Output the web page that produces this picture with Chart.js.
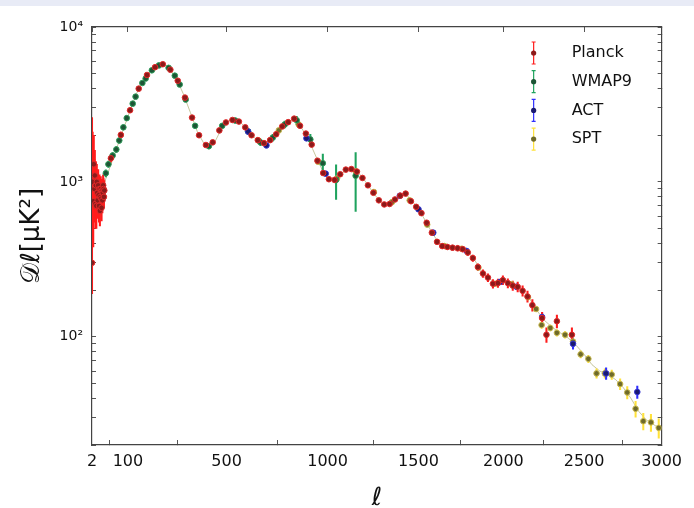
<!DOCTYPE html>
<html>
<head>
<meta charset="utf-8">
<script src="https://cdn.jsdelivr.net/npm/chart.js@4.4.1/dist/chart.umd.min.js"></script>
<style>
  html, body { margin: 0; padding: 0; }
  body { width: 694px; height: 508px; overflow: hidden;
         background: linear-gradient(#e8ebf6 0, #e8ebf6 6px, #fff 6px); }
  canvas { display: block; }
</style>
</head>
<body>
<canvas id="chart" width="694" height="508"></canvas>
<script>
// band powers D_l [uK^2]

// Planck, unbinned low multipoles (asymmetric errors)
const lowL  = [2, 3, 4, 5, 6, 7, 8, 9, 10, 11, 12, 13, 14, 15, 16, 17, 18, 19, 20, 21, 22, 23, 24, 25, 26, 27, 28, 29];
const lowD  = [300, 1000, 750, 1300, 900, 1100, 720, 950, 700, 1000, 850, 760, 950, 820, 700, 900, 650, 800, 900, 780, 680, 880, 760, 850, 950, 900, 800, 880];
const lowLo = [190, 450, 380, 700, 550, 700, 500, 650, 500, 750, 650, 580, 740, 640, 550, 720, 520, 650, 740, 640, 560, 730, 630, 710, 800, 760, 680, 750];
const lowHi = [2600, 2100, 1500, 2000, 1400, 1600, 1050, 1350, 950, 1300, 1100, 980, 1200, 1030, 880, 1110, 800, 970, 1080, 940, 820, 1040, 900, 1000, 1110, 1050, 930, 1020];

// Planck, binned
const planckL = [47, 77, 107, 137, 167, 197, 227, 257, 287, 317, 347, 377, 407, 437, 467, 497, 527, 557, 587, 617,
  647, 677, 707, 737, 767, 797, 827, 857, 887, 917, 947, 977, 1007, 1037, 1067, 1097, 1127, 1157, 1187, 1217,
  1247, 1277, 1307, 1337, 1367, 1397, 1427, 1457, 1487, 1517, 1547, 1577, 1607, 1637, 1667, 1697, 1727, 1757, 1787, 1817,
  1847, 1877, 1907, 1937, 1967, 1997, 2027, 2057, 2087, 2117, 2147, 2177, 2237, 2264, 2329, 2423];
const planckD = [1420, 2010, 2900, 4000, 4900, 5500, 5750, 5300, 4500, 3500, 2600, 2000, 1730, 1800, 2150, 2420, 2510, 2450, 2250, 2000,
  1860, 1780, 1860, 2030, 2280, 2430, 2560, 2300, 2050, 1740, 1370, 1140, 1040, 1030, 1120, 1200, 1210, 1165, 1060, 950,
  850, 760, 715, 720, 770, 815, 840, 750, 690, 628, 545, 470, 410, 385, 380, 376, 373, 368, 350, 322,
  282, 256, 241, 220, 222, 232, 222, 214, 210, 198, 182, 160, 132, 103, 126, 103];
const planckErr = [80, 90, 100, 110, 120, 130, 130, 120, 100, 80, 60, 45, 40, 40, 45, 50, 50, 50, 45, 40,
  38, 36, 38, 40, 45, 50, 52, 48, 44, 38, 32, 28, 26, 26, 28, 30, 30, 30, 28, 26,
  24, 22, 21, 21, 22, 24, 25, 23, 22, 20, 18, 16, 15, 14, 14, 14, 15, 15, 15, 15,
  14, 14, 14, 14, 14, 15, 15, 15, 15, 15, 15, 14, 12, 11, 12, 11];

// WMAP9
const wmapL   = [33, 40, 52, 63, 72, 85, 96, 116, 126, 150, 162, 185, 212, 250, 275, 295, 320, 360, 420, 480, 540, 600, 660, 720, 780, 840, 910, 975, 1045, 1150];
const wmapD   = [1138, 1300, 1480, 1620, 1850, 2250, 2580, 3200, 3550, 4350, 4650, 5250, 5650, 5450, 4850, 4250, 3400, 2300, 1700, 2300, 2490, 2120, 1800, 1930, 2350, 2500, 1880, 1320, 1030, 1095];
const wmapErr = [60, 60, 65, 70, 75, 80, 85, 95, 100, 110, 115, 125, 130, 130, 120, 110, 95, 80, 70, 80, 90, 90, 90, 100, 120, 150, 150, 190, 260, 450];

// ACT
const actL   = [601, 689, 890, 990, 1394, 1500, 1585, 1780, 1980, 2080, 2237, 2430, 2640, 2841];
const actD   = [2110, 1720, 1910, 1130, 813, 665, 470, 358, 226, 210, 134, 90, 58, 44];
const actErr = [55, 45, 50, 35, 24, 20, 15, 12, 9, 9, 8, 7, 5, 4];

// SPT
const sptL   = [650, 750, 850, 950, 1050, 1150, 1250, 1350, 1450, 1550, 1650, 1750, 1850, 1950, 2050, 2150, 2200,
  2234, 2288, 2329, 2380, 2430, 2478, 2527, 2579, 2632, 2676, 2730, 2776, 2830, 2880, 2930, 2981];
const sptD   = [1850, 2150, 2350, 1350, 1050, 1170, 860, 740, 760, 530, 385, 370, 280, 220, 218, 180, 151,
  119, 114, 106, 103, 93, 77, 72, 58, 58, 57, 49.5, 43.7, 34.3, 28.5, 28, 25.8];
const sptErr = [45, 50, 55, 35, 28, 30, 22, 20, 20, 15, 12, 11, 9, 8, 8, 7, 6,
  6, 5, 5, 5, 5, 4, 4, 4, 4, 4, 4, 4, 4, 3.5, 3.5, 3.7];

// best-fit curve behind the points
const modelL = [2, 10, 20, 30, 50, 80, 110, 140, 170, 200, 225, 250, 280, 310, 340, 370, 400, 420, 450, 480, 510, 540, 570, 600,
  630, 660, 690, 720, 750, 780, 810, 830, 860, 890, 920, 950, 980, 1010, 1040, 1070, 1100, 1130, 1160, 1190, 1220, 1260,
  1300, 1330, 1360, 1400, 1430, 1460, 1500, 1540, 1580, 1620, 1660, 1700, 1750, 1790, 1830, 1870, 1910, 1950, 1990, 2030,
  2080, 2120, 2160, 2200, 2250, 2300, 2350, 2400, 2450, 2500, 2550, 2600, 2650, 2700, 2750, 2800, 2850, 2900, 2950, 3000];
const modelD = [1000, 800, 850, 1000, 1350, 2050, 3000, 4150, 5000, 5550, 5760, 5500, 4700, 3700, 2800, 2100, 1750, 1700, 1850, 2250, 2480, 2520, 2380, 2150,
  1930, 1800, 1800, 1930, 2150, 2350, 2470, 2500, 2280, 1980, 1650, 1360, 1140, 1030, 1040, 1120, 1190, 1210, 1160, 1060, 940, 810,
  720, 710, 760, 815, 830, 760, 670, 560, 465, 400, 380, 376, 368, 350, 310, 262, 240, 222, 228, 222,
  210, 197, 176, 150, 128, 115, 106, 98, 88, 77, 66, 60, 57, 53, 47, 40, 33, 29, 27, 25];

const xTicks = [2, 100, 500, 1000, 1500, 2000, 2500, 3000];
const yTicks = [20, 30, 40, 50, 60, 70, 80, 90, 100, 200, 300, 400, 500, 600, 700, 800, 900,
  1000, 2000, 3000, 4000, 5000, 6000, 7000, 8000, 9000, 10000];
const yLabels = {100: '10²', 1000: '10³', 10000: '10⁴'};

const names    = ['Planck', 'WMAP9', 'ACT', 'SPT'];
const barCols  = ['#ff1c1c', '#1fa35e', '#2f2fff', '#ffe23a'];
const dotFill  = ['#8c1a1a', '#1d5535', '#1a1a70', '#6e6a2a'];
const dotEdge  = ['#e02a2a', '#2f9a5a', '#3434d0', '#c8b850'];

// the l axis is stretched like l^0.8
const POW = 0.8;
class PowerScale extends Chart.LinearScale {
  getPixelForValue(value) {
    const a = Math.pow(this.min, POW), b = Math.pow(this.max, POW);
    return this.getPixelForDecimal((Math.pow(value, POW) - a) / (b - a));
  }
  getValueForPixel(pixel) {
    const a = Math.pow(this.min, POW), b = Math.pow(this.max, POW);
    return Math.pow(a + this.getDecimalForPixel(pixel) * (b - a), 1 / POW);
  }
}
PowerScale.id = 'power';
PowerScale.defaults = Chart.LinearScale.defaults;
Chart.register(PowerScale);

const pts = (ls, ds) => ls.map((l, i) => ({x: l, y: ds[i]}));
const bars = (ls, ds, es) => ls.map((l, i) => ({x: l, y: [ds[i] - es[i], ds[i] + es[i]]}));

const planckBars = lowL.map((l, i) => ({x: l, y: [lowLo[i], lowHi[i]]}))
  .concat(bars(planckL, planckD, planckErr));
const planckPts = pts(lowL, lowD).concat(pts(planckL, planckD));

function errSet(data, i) {
  return {type: 'bar', data: data, backgroundColor: barCols[i], barThickness: 1.4,
    stack: 'err', order: 10 + i};
}
function dotSet(data, i, order) {
  return {type: 'scatter', label: names[i], data: data, pointRadius: 2.8, pointBorderWidth: 1,
    backgroundColor: dotFill[i], borderColor: dotEdge[i], order: order};
}

const legendPlugin = {
  id: 'cmbLegend',
  afterDraw(chart) {
    const ctx = chart.ctx;
    const x = chart.chartArea.right - 128;
    ctx.save();
    names.forEach((name, i) => {
      const y = chart.chartArea.top + 26 + i * 28.7;
      ctx.strokeStyle = barCols[i];
      ctx.lineWidth = 1.2;
      ctx.beginPath();
      ctx.moveTo(x, y - 11); ctx.lineTo(x, y + 11);
      ctx.moveTo(x - 2, y - 11); ctx.lineTo(x + 2, y - 11);
      ctx.moveTo(x - 2, y + 11); ctx.lineTo(x + 2, y + 11);
      ctx.stroke();
      ctx.fillStyle = dotFill[i];
      ctx.beginPath(); ctx.arc(x, y, 2.6, 0, 2 * Math.PI); ctx.fill();
      ctx.fillStyle = '#111';
      ctx.font = '16px "DejaVu Sans"';
      ctx.textBaseline = 'middle';
      ctx.fillText(name, x + 38, y);
    });
    ctx.restore();
  }
};

const setXTicks = s => { s.ticks = xTicks.map(v => ({value: v})); };
const setYTicks = s => { s.ticks = yTicks.map(v => ({value: v})); };
const frame = {color: '#444', width: 1.2};
const tickGrid = {drawOnChartArea: false, tickLength: -4, tickColor: '#555'};

new Chart(document.getElementById('chart'), {
  type: 'scatter',
  data: {
    datasets: [
      {type: 'scatter', data: pts(modelL, modelD), showLine: true, pointRadius: 0,
        borderColor: 'rgba(160,160,90,0.6)', borderWidth: 1, order: 20},
      errSet(planckBars, 0),
      errSet(bars(wmapL, wmapD, wmapErr), 1),
      errSet(bars(actL, actD, actErr), 2),
      errSet(bars(sptL, sptD, sptErr), 3),
      dotSet(pts(sptL, sptD), 3, 5),
      dotSet(pts(wmapL, wmapD), 1, 4),
      dotSet(pts(actL, actD), 2, 3),
      dotSet(planckPts, 0, 2)
    ]
  },
  options: {
    responsive: false,
    animation: false,
    layout: {padding: {left: 0, right: 26, top: 27, bottom: 0}},
    plugins: {legend: {display: false}, tooltip: {enabled: false}},
    scales: {
      x: {
        type: 'power', position: 'bottom', min: 2, max: 3000, offset: false,
        afterBuildTicks: setXTicks,
        afterFit: s => { s.height = 63; },
        ticks: {autoSkip: false, maxRotation: 0, padding: 12, color: '#111',
          font: {family: 'DejaVu Sans', size: 16}, callback: v => String(v)},
        grid: {...tickGrid, tickLength: -5},
        border: frame,
        title: {display: true, text: 'ℓ', color: '#111', padding: 0,
          font: {family: 'DejaVu Sans', size: 25, style: 'italic', lineHeight: 0.8}}
      },
      x2: {
        type: 'power', position: 'top', min: 2, max: 3000, offset: false,
        afterBuildTicks: setXTicks,
        afterFit: s => { s.height = 0; },
        ticks: {display: false},
        grid: {...tickGrid, tickLength: -5},
        border: frame
      },
      y: {
        type: 'logarithmic', position: 'left', min: 20, max: 10000, stacked: false,
        afterBuildTicks: setYTicks,
        afterFit: s => { s.width = 92; },
        ticks: {autoSkip: false, padding: 13, color: '#111',
          font: {family: 'DejaVu Sans', size: 14}, callback: v => yLabels[v] || ''},
        grid: tickGrid,
        border: frame,
        title: {display: true, text: '𝒟ℓ[μK²]', color: '#111', padding: {top: 17, bottom: 0},
          font: {family: 'DejaVu Sans', size: 26}}
      },
      y2: {
        type: 'logarithmic', position: 'right', min: 20, max: 10000,
        afterBuildTicks: setYTicks,
        afterFit: s => { s.width = 0; },
        ticks: {display: false},
        grid: tickGrid,
        border: frame
      }
    }
  },
  plugins: [legendPlugin]
});
</script>
</body>
</html>
